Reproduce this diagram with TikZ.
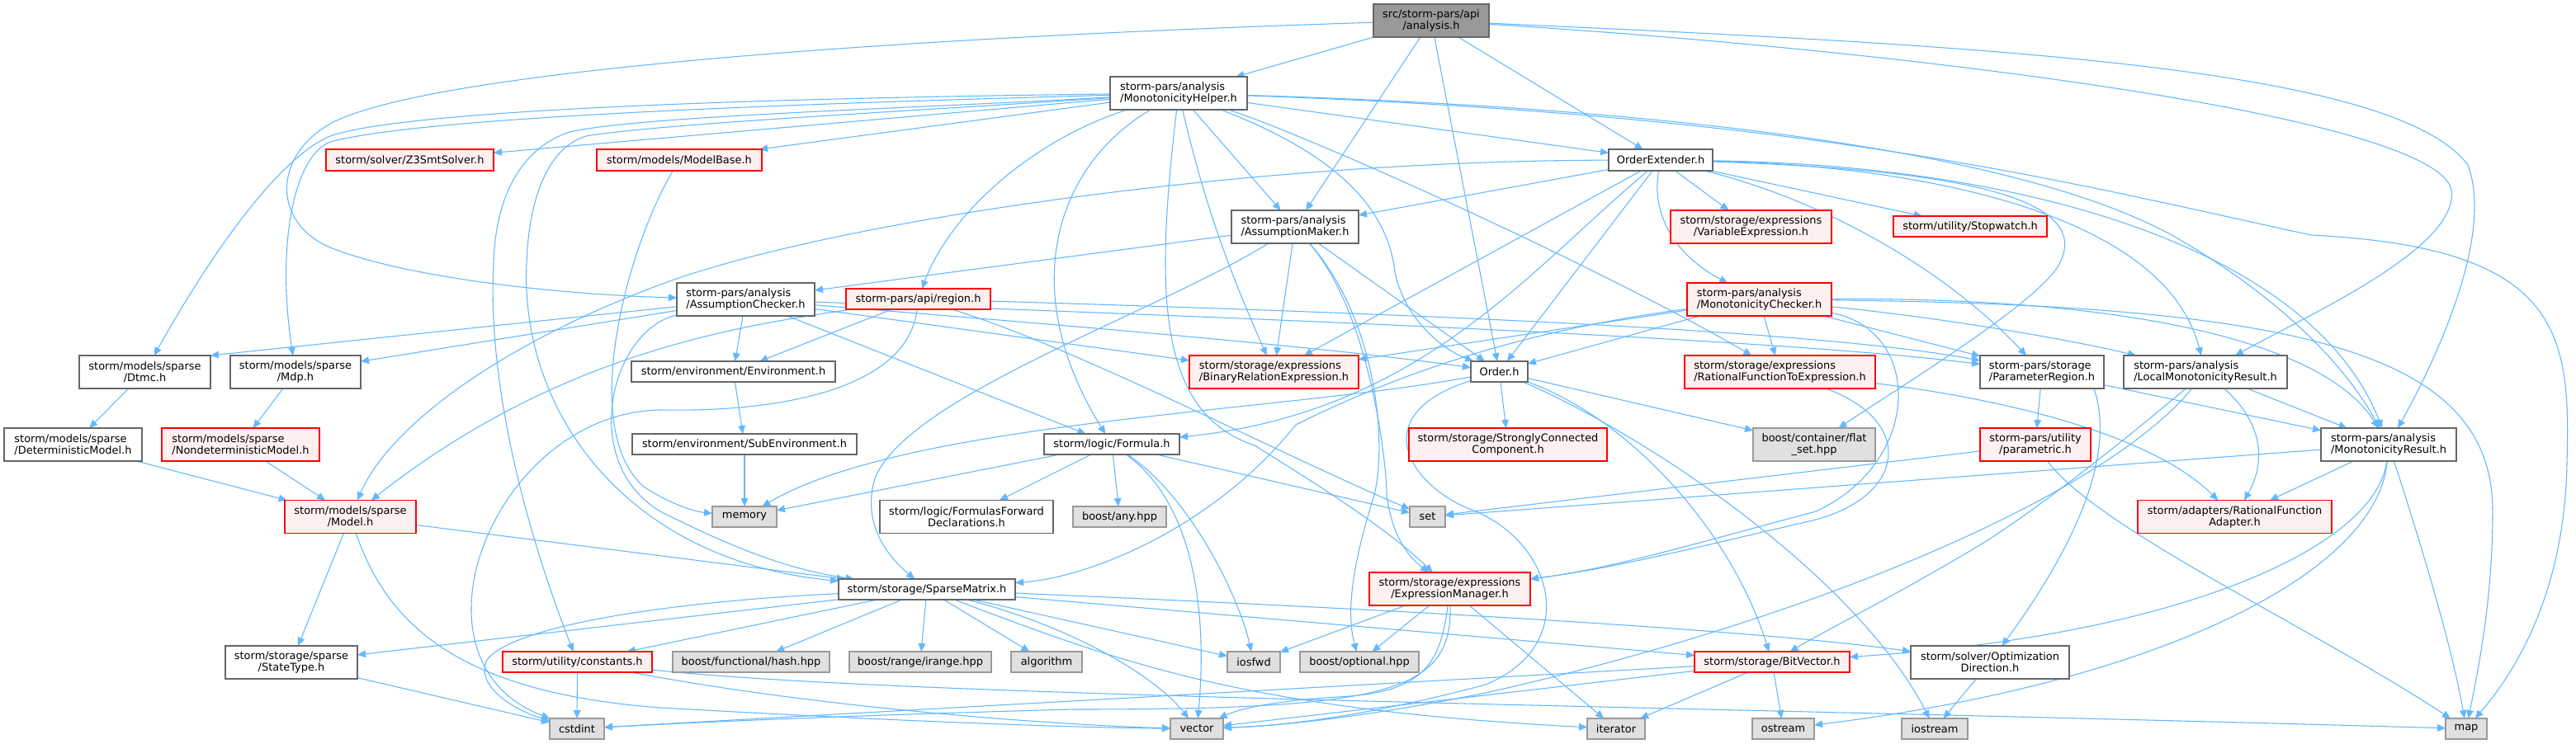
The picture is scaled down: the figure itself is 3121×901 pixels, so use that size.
\documentclass[tikz,border=0pt]{standalone}
\usepackage{fontspec}
\setmainfont{DejaVu Sans}
\usetikzlibrary{arrows.meta,backgrounds}
\definecolor{edgec}{HTML}{63B8FF}
\definecolor{wbord}{HTML}{666666}
\definecolor{rfill}{HTML}{FFF0F0}
\definecolor{gfill}{HTML}{E0E0E0}
\definecolor{gbord}{HTML}{999999}
\definecolor{rootfill}{HTML}{999999}
\tikzset{
 base/.style={rectangle, inner sep=0pt, outer sep=0pt, line width=1pt, font=\fontsize{9.7}{10.5}\selectfont, text=black},
 wn/.style={base, draw=wbord, fill=white},
 rn/.style={base, draw=red, fill=rfill},
 gn/.style={base, draw=gbord, fill=gfill},
 rootn/.style={base, draw=wbord, fill=rootfill},
 edge/.style={draw=edgec, line width=0.8pt, -{Triangle[length=7.5pt,width=6.5pt]}},
}
\newcommand\nd[8]{\node[#1, align=#8, minimum width={#5*0.75pt}, minimum height={#6*0.75pt}] (#2) at (#3,#4) {#7};}
\begin{document}
\begin{tikzpicture}[x=0.75pt,y=-0.75pt]
\useasboundingbox (0,0) rectangle (3121,901);
% nodes
\nd{rootn}{root}{1734}{25}{140}{40}{src/storm-pars/api\\/analysis.h}{center}
\nd{wn}{MH}{1428}{113}{166}{40}{storm-pars/analysis\\/MonotonicityHelper.h}{left}
\nd{rn}{Z3}{496.5}{194}{203}{26}{storm/solver/Z3SmtSolver.h}{center}
\nd{rn}{MB}{823}{194}{200}{26}{storm/models/ModelBase.h}{center}
\nd{wn}{OE}{2012}{194}{126}{26}{OrderExtender.h}{center}
\nd{wn}{AM}{1569}{275}{154}{40}{storm-pars/analysis\\/AssumptionMaker.h}{left}
\nd{rn}{VE}{2121.5}{275}{195}{40}{storm/storage/expressions\\/VariableExpression.h}{center}
\nd{rn}{SW}{2387}{274.5}{186}{25}{storm/utility/Stopwatch.h}{center}
\nd{wn}{AC}{903.5}{363}{167}{40}{storm-pars/analysis\\/AssumptionChecker.h}{left}
\nd{rn}{region}{1112.5}{362.5}{175}{25}{storm-pars/api/region.h}{center}
\nd{rn}{MC}{2131.5}{363}{175}{40}{storm-pars/analysis\\/MonotonicityChecker.h}{left}
\nd{wn}{Dtmc}{175.5}{451}{159}{40}{storm/models/sparse\\/Dtmc.h}{center}
\nd{wn}{Mdp}{358}{451}{158}{40}{storm/models/sparse\\/Mdp.h}{center}
\nd{wn}{Env}{888.5}{450.5}{247}{25}{storm/environment/Environment.h}{center}
\nd{rn}{BRE}{1543.5}{451}{205}{40}{storm/storage/expressions\\/BinaryRelationExpression.h}{left}
\nd{wn}{Order}{1816.5}{450.5}{69}{25}{Order.h}{center}
\nd{rn}{RFTE}{2156.5}{451}{231}{40}{storm/storage/expressions\\/RationalFunctionToExpression.h}{left}
\nd{wn}{PR}{2474}{451}{150}{40}{storm-pars/storage\\/ParameterRegion.h}{left}
\nd{wn}{LMR}{2672}{451}{198}{40}{storm-pars/analysis\\/LocalMonotonicityResult.h}{left}
\nd{wn}{DetM}{88.5}{539}{167}{40}{storm/models/sparse\\/DeterministicModel.h}{left}
\nd{rn}{NDetM}{291.5}{539}{191}{40}{storm/models/sparse\\/NondeterministicModel.h}{left}
\nd{wn}{SubEnv}{902}{538.5}{272}{25}{storm/environment/SubEnvironment.h}{center}
\nd{wn}{Formula}{1347}{538.5}{164}{25}{storm/logic/Formula.h}{center}
\nd{rn}{SCC}{1827}{539}{240}{40}{storm/storage/StronglyConnected\\Component.h}{center}
\nd{gn}{flatset}{2198}{539}{148}{40}{boost/container/flat\\\_set.hpp}{center}
\nd{rn}{param}{2466}{539}{134}{40}{storm-pars/utility\\/parametric.h}{center}
\nd{wn}{MR}{2894}{539}{164}{40}{storm-pars/analysis\\/MonotonicityResult.h}{left}
\nd{rn}{Model}{424.5}{626.5}{159}{40}{storm/models/sparse\\/Model.h}{center}
\nd{gn}{memory}{902}{626.5}{78}{25}{memory}{center}
\nd{wn}{FFD}{1171}{626.5}{210}{40}{storm/logic/FormulasForward\\Declarations.h}{center}
\nd{gn}{any}{1356.5}{626.5}{113}{25}{boost/any.hpp}{center}
\nd{gn}{set}{1729.5}{626.5}{43}{25}{set}{center}
\nd{rn}{RFA}{2707.5}{626.5}{235}{40}{storm/adapters/RationalFunction\\Adapter.h}{center}
\nd{wn}{SM}{1123}{714.5}{214}{25}{storm/storage/SparseMatrix.h}{center}
\nd{rn}{EM}{1756.5}{714}{195}{40}{storm/storage/expressions\\/ExpressionManager.h}{center}
\nd{wn}{StateType}{353}{803}{160}{40}{storm/storage/sparse\\/StateType.h}{center}
\nd{rn}{constants}{699.5}{802.5}{181}{25}{storm/utility/constants.h}{center}
\nd{gn}{hash}{910}{802.5}{190}{25}{boost/functional/hash.hpp}{center}
\nd{gn}{irange}{1115}{802.5}{172}{25}{boost/range/irange.hpp}{center}
\nd{gn}{algorithm}{1268}{802.5}{86}{25}{algorithm}{center}
\nd{gn}{iosfwd}{1519}{802.5}{64}{25}{iosfwd}{center}
\nd{gn}{optional}{1647}{802.5}{144}{25}{boost/optional.hpp}{center}
\nd{rn}{BV}{2147}{802.5}{188}{25}{storm/storage/BitVector.h}{center}
\nd{wn}{OptDir}{2411}{803}{192}{40}{storm/solver/Optimization\\Direction.h}{center}
\nd{gn}{cstdint}{699}{883.5}{66}{25}{cstdint}{center}
\nd{gn}{vector}{1450}{883.5}{64}{25}{vector}{center}
\nd{gn}{iterator}{1958}{883.5}{70}{25}{iterator}{center}
\nd{gn}{ostream}{2160.5}{883.5}{75}{25}{ostream}{center}
\nd{gn}{iostream}{2344}{883.5}{80}{25}{iostream}{center}
\nd{gn}{map}{2988}{883.5}{50}{25}{map}{center}
\begin{pgfonlayer}{background}
\fill[white] (0,0) rectangle (3121,901);
% root
\draw[edge] (root) -- (MH);
\draw[edge] (root) -- (OE);
\draw[edge] (root) -- (AM);
\draw[edge] (root) -- (Order);
\draw[edge] (root) .. controls (1100,45) and (520,85) .. (400,150) .. controls (330,190) and (330,270) .. (400,300) .. controls (500,340) and (700,358) .. (AC);
\draw[edge] (root) .. controls (2400,55) and (2900,80) .. (2990,200) .. controls (3020,280) and (2960,420) .. (MR);
\draw[edge] (root) .. controls (2300,60) and (2950,140) .. (2970,230) .. controls (2980,300) and (2800,380) .. (LMR);
% MH
\draw[edge] (MH) -- (Z3);
\draw[edge] (MH) -- (MB);
\draw[edge] (MH) .. controls (1000,118) and (500,130) .. (400,165) .. controls (340,190) and (260,300) .. (Dtmc);
\draw[edge] (MH) .. controls (1000,125) and (520,140) .. (400,172) .. controls (355,190) and (335,300) .. (Mdp);
\draw[edge] (MH) .. controls (1100,132) and (780,140) .. (690,160) .. controls (630,180) and (600,240) .. (598,320) .. controls (590,470) and (640,650) .. (constants);
\draw[edge] (MH) .. controls (1100,135) and (800,150) .. (710,165) .. controls (660,180) and (640,250) .. (638,320) .. controls (630,500) and (760,680) .. (SM);
\draw[edge] (MH) -- (OE);
\draw[edge] (MH) -- (AM);
\draw[edge] (MH) .. controls (1250,170) and (1150,260) .. (region);
\draw[edge] (MH) .. controls (1280,200) and (1230,350) .. (Formula);
\draw[edge] (MH) .. controls (1460,250) and (1490,330) .. (BRE);
\draw[edge] (MH) .. controls (1600,180) and (1680,240) .. (1690,330) .. controls (1700,380) and (1740,420) .. (Order);
\draw[edge] (MH) .. controls (1600,170) and (1950,330) .. (RFTE);
\draw[edge] (MH) .. controls (1400,350) and (1400,500) .. (1520,540) .. controls (1600,590) and (1680,640) .. (EM);
\draw[edge] (MH) .. controls (2200,140) and (2500,220) .. (2800,285) .. controls (3100,300) and (3115,400) .. (3110,560) .. controls (3108,700) and (3060,800) .. (map);
\draw[edge] (MH) .. controls (2000,130) and (2450,180) .. (2640,290) .. controls (2760,360) and (2840,440) .. (MR);
% OE
\draw[edge] (OE) .. controls (1500,195) and (1000,270) .. (800,345) .. controls (600,420) and (470,520) .. (Model);
\draw[edge] (OE) -- (AM);
\draw[edge] (OE) -- (VE);
\draw[edge] (OE) -- (SW);
\draw[edge] (OE) .. controls (2000,260) and (2030,310) .. (MC);
\draw[edge] (OE) -- (Order);
\draw[edge] (OE) -- (BRE);
\draw[edge] (OE) .. controls (1850,330) and (1720,500) .. (Formula);
\draw[edge] (OE) .. controls (2300,200) and (2620,250) .. (LMR);
\draw[edge] (OE) .. controls (2350,205) and (2540,235) .. (2495,320) .. controls (2470,367) and (2300,470) .. (flatset);
\draw[edge] (OE) .. controls (2450,200) and (2800,300) .. (MR);
\draw[edge] (OE) .. controls (2200,240) and (2350,320) .. (PR);
% AM
\draw[edge] (AM) -- (AC);
\draw[edge] (AM) -- (BRE);
\draw[edge] (AM) -- (Order);
\draw[edge] (AM) .. controls (1660,380) and (1680,560) .. (1680,600) .. controls (1685,640) and (1700,670) .. (EM);
\draw[edge] (AM) .. controls (1670,390) and (1680,540) .. (1665,600) .. controls (1640,680) and (1630,740) .. (optional);
\draw[edge] (AM) .. controls (1400,380) and (1100,480) .. (1060,580) .. controls (1045,630) and (1070,670) .. (SM);
% AC
\draw[edge] (AC) -- (Dtmc.north east);
\draw[edge] (AC) -- (Mdp);
\draw[edge] (AC) -- (Env);
\draw[edge] (AC) -- (Formula);
\draw[edge] (AC) -- (BRE);
\draw[edge] (AC) .. controls (1300,395) and (1600,420) .. (Order);
\draw[edge] (AC) .. controls (1500,385) and (2150,410) .. (PR);
\draw[edge] (AC) .. controls (740,400) and (700,560) .. (800,620) .. controls (880,660) and (950,690) .. (SM);
% region
\draw[edge] (region) .. controls (900,395) and (680,425) .. (Model);
\draw[edge] (region) -- (Env);
\draw[edge] (region) .. controls (1700,380) and (2200,400) .. (PR);
\draw[edge] (region) .. controls (1300,420) and (1550,550) .. (set);
\draw[edge] (region) .. controls (1100,470) and (950,500) .. (800,497) .. controls (600,500) and (480,800) .. (cstdint);
% MC
\draw[edge] (MC) -- (BRE);
\draw[edge] (MC) -- (Order);
\draw[edge] (MC) -- (RFTE);
\draw[edge] (MC) -- (PR);
\draw[edge] (MC) .. controls (2350,385) and (2500,410) .. (LMR);
\draw[edge] (MC) .. controls (2600,360) and (2820,420) .. (MR);
\draw[edge] (MC) .. controls (2800,370) and (3020,430) .. (3020,620) .. controls (3020,720) and (3005,800) .. (map);
\draw[edge] (MC) .. controls (1850,400) and (1700,450) .. (1570,515) .. controls (1470,640) and (1320,700) .. (SM);
\draw[edge] (MC) .. controls (2330,400) and (2330,560) .. (2200,620) .. controls (2050,660) and (1950,690) .. (EM);
% models / environment
\draw[edge] (Dtmc) -- (DetM);
\draw[edge] (Mdp) -- (NDetM);
\draw[edge] (DetM) -- (Model);
\draw[edge] (NDetM) -- (Model);
\draw[edge] (Env) -- (SubEnv);
\draw[edge] (SubEnv) -- (memory);
\draw[edge] (MB) .. controls (760,300) and (700,520) .. (780,590) .. controls (810,610) and (840,620) .. (memory);
% Order
\draw[edge] (Order) -- (SCC);
\draw[edge] (Order) -- (flatset);
\draw[edge] (Order) .. controls (1550,500) and (1100,510) .. (memory);
\draw[edge] (Order) .. controls (1980,510) and (2100,650) .. (BV);
\draw[edge] (Order) .. controls (2000,530) and (2250,700) .. (iostream);
\draw[edge] (Order) .. controls (1660,500) and (1700,580) .. (1775,615) .. controls (1880,650) and (1920,780) .. (1800,830) .. controls (1650,870) and (1550,880) .. (vector);
% Formula
\draw[edge] (Formula) -- (memory);
\draw[edge] (Formula) -- (FFD);
\draw[edge] (Formula) -- (any);
\draw[edge] (Formula) -- (set);
\draw[edge] (Formula) .. controls (1460,620) and (1460,780) .. (vector);
\draw[edge] (Formula) .. controls (1440,600) and (1500,720) .. (iosfwd);
% RFTE, PR, LMR, MR, param
\draw[edge] (RFTE) .. controls (2400,480) and (2600,520) .. (RFA);
\draw[edge] (RFTE) .. controls (2320,510) and (2310,600) .. (2200,630) .. controls (2050,665) and (1950,690) .. (EM);
\draw[edge] (PR) -- (param);
\draw[edge] (PR) -- (MR);
\draw[edge] ([xshift=-9pt]PR.south east) .. controls (2560,540) and (2530,640) .. (OptDir);
\draw[edge] (LMR) -- (MR);
\draw[edge] (LMR) .. controls (2750,520) and (2740,570) .. (RFA);
\draw[edge] (LMR) .. controls (2590,520) and (2480,610) .. (2400,660) .. controls (2300,720) and (2220,760) .. (BV);
\draw[edge] (LMR) .. controls (2550,600) and (2200,750) .. (1800,840) .. controls (1650,870) and (1550,880) .. (vector);
\draw[edge] (MR) -- (RFA);
\draw[edge] (MR) .. controls (2930,650) and (2970,780) .. (map);
\draw[edge] (MR) -- (set);
\draw[edge] (MR) .. controls (2880,660) and (2650,770) .. (BV);
\draw[edge] (MR) .. controls (2880,700) and (2600,830) .. (ostream);
\draw[edge] (param) -- (set);
\draw[edge] (param) .. controls (2540,640) and (2800,760) .. (map);
% SparseMatrix
\draw[edge] (SM) -- (StateType);
\draw[edge] (SM) -- (constants);
\draw[edge] (SM) .. controls (800,730) and (620,760) .. (590,800) .. controls (575,830) and (620,860) .. (cstdint);
\draw[edge] (SM) -- (hash);
\draw[edge] (SM) -- (irange);
\draw[edge] (SM) -- (algorithm);
\draw[edge] (SM) .. controls (1300,760) and (1400,820) .. (vector);
\draw[edge] (SM) -- (iosfwd);
\draw[edge] (SM) -- (BV);
\draw[edge] (SM) .. controls (1600,735) and (2100,760) .. (OptDir);
\draw[edge] (SM) .. controls (1350,800) and (1500,860) .. (iterator);
% ExpressionManager
\draw[edge] (EM) -- (iosfwd);
\draw[edge] (EM) -- (optional);
\draw[edge] (EM) -- (iterator);
\draw[edge] (EM) .. controls (1745,810) and (1720,840) .. (1620,845) .. controls (1540,850) and (1500,860) .. (vector);
\draw[edge] (EM) .. controls (1760,840) and (1680,860) .. (1300,860) .. controls (1000,868) and (800,878) .. (cstdint);
% bottom
\draw[edge] (Model) -- (StateType);
\draw[edge] (Model) -- (SM);
\draw[edge] (Model) .. controls (470,760) and (560,840) .. (800,858) .. controls (1100,875) and (1300,882) .. (vector);
\draw[edge] (StateType) -- (cstdint);
\draw[edge] (constants) -- (cstdint);
\draw[edge] (constants) .. controls (1000,860) and (1300,880) .. (vector);
\draw[edge] (constants) .. controls (1100,845) and (2000,855) .. (map);
\draw[edge] (BV) -- (cstdint);
\draw[edge] (BV) -- (vector);
\draw[edge] (BV) -- (iterator);
\draw[edge] (BV) -- (ostream);
\draw[edge] (OptDir) -- (iostream);
\end{pgfonlayer}
\end{tikzpicture}
\end{document}
